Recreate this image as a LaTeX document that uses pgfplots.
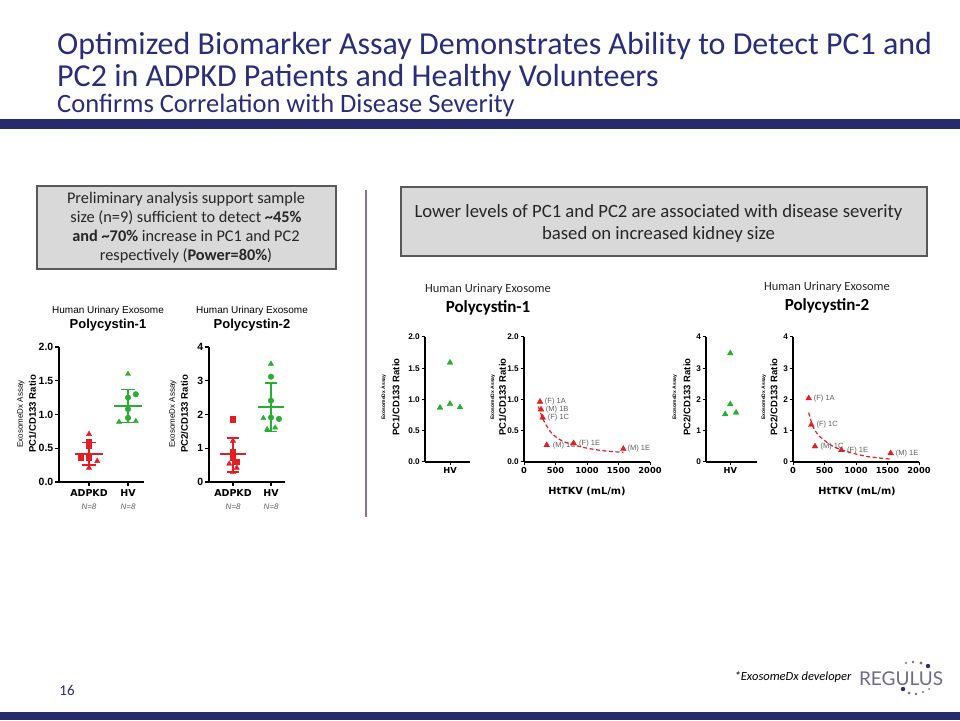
\documentclass[border=0pt]{standalone}
\usepackage{pgfplots}
\pgfplotsset{compat=1.18}
\usepackage{fontspec}
\setmainfont{Carlito}
\newfontfamily\arial{Liberation Sans}
\newfontfamily\dvs{DejaVu Sans}
\newfontfamily\lato{Lato}
\definecolor{navy}{RGB}{42,46,122}
\definecolor{navybar}{RGB}{38,42,110}
\definecolor{boxgray}{RGB}{217,217,217}
\definecolor{boxborder}{RGB}{89,89,89}
\definecolor{divider}{RGB}{140,112,135}
\definecolor{gpred}{RGB}{228,30,36}
\definecolor{gpgreen}{RGB}{40,175,50}
\definecolor{lblgray}{RGB}{95,95,95}
\definecolor{logogray}{RGB}{110,106,140}
\definecolor{mauve}{RGB}{140,100,130}
\pgfplotsset{
  gp/.style={scale only axis, anchor=south west, axis lines=left,
    axis line style={-, line width=1.3pt, black},
    tick align=outside, major tick length=4pt,
    tick style={line width=1.1pt, black},
    /pgf/number format/assume math mode=true,
    /pgf/number format/1000 sep={},
    scaled ticks=false, clip=false},
  gpl/.style={gp, xticklabel style={font=\dvs\bfseries\fontsize{9.5}{11}\selectfont},
    yticklabel style={font=\arial\bfseries\fontsize{10.5}{12}\selectfont, inner xsep=1.5pt}},
  gpr/.style={gp, axis line style={-, line width=1.1pt, black},
    major tick length=3.5pt, tick style={line width=1pt, black},
    xticklabel style={font=\dvs\bfseries\fontsize{8.3}{10}\selectfont, inner ysep=2pt},
    yticklabel style={font=\arial\bfseries\fontsize{8.2}{10}\selectfont, inner xsep=1.5pt}},
  onedec/.style={yticklabel style={/pgf/number format/.cd, fixed, fixed zerofill, precision=1}},
}
\begin{document}
\begin{tikzpicture}[x=1pt,y=1pt]
\useasboundingbox (0,0) rectangle (960,720);
\fill[white] (0,0) rectangle (960,720);
% bars
\fill[navybar] (0,591) rectangle (960,601);
\fill[navybar] (0,0) rectangle (960,8);
% title
\node[anchor=base west, inner sep=0, text=navy, font=\fontsize{32}{35}\selectfont] at (57,665) {Optimized Biomarker Assay Demonstrates Ability to Detect PC1 and};
\node[anchor=base west, inner sep=0, text=navy, font=\fontsize{32}{35}\selectfont] at (57,633) {PC2 in ADPKD Patients and Healthy Volunteers};
\node[anchor=base west, inner sep=0, text=navy, font=\fontsize{26.5}{29}\selectfont] at (57,607) {Confirms Correlation with Disease Severity};
% boxes
\draw[fill=boxgray, draw=boxborder, line width=1.2pt] (37,451) rectangle (336,534);
\node[align=center, text=black!85, font=\fontsize{16.3}{19}\selectfont] at (186,492) {Preliminary analysis support sample\\size (n=9) sufficient to detect \textbf{\textasciitilde45\%}\\\textbf{and \textasciitilde70\%} increase in PC1 and PC2\\respectively (\textbf{Power=80\%})};
\draw[fill=boxgray, draw=boxborder, line width=1.2pt] (401,464) rectangle (927,533);
\node[align=center, text=black!85, font=\fontsize{18.7}{22}\selectfont] at (658.5,496) {Lower levels of PC1 and PC2 are associated with disease severity\\based on increased kidney size};
\draw[divider, line width=1.5pt] (366,530) -- (366,203);
% footer
\node[text=navy, font=\fontsize{15}{18}\selectfont] at (67,30) {16};
\node[font=\itshape\fontsize{12.5}{15}\selectfont] at (793,43) {*ExosomeDx developer};
\node[text=logogray, font=\lato\fontsize{19}{22}\selectfont] at (901,41) {REGULUS};
\foreach \p/\r/\c in {{906,57}/1.2/mauve, {913,58}/1.4/mauve, {921,57}/1.7/mauve, {928,54}/2.2/navy, {903,31}/2.2/navy, {909,27}/1.5/mauve, {916,26}/1.4/mauve, {923,28}/1.2/mauve, {929,31}/1.0/mauve}
  {\fill[\c] (\p) circle (\r);}

% ---------------- Left plot 1: PC1 ----------------
\node[font=\arial\fontsize{10}{12}\selectfont] at (108,409) {Human Urinary Exosome};
\node[font=\arial\bfseries\fontsize{13}{15}\selectfont] at (108,395) {Polycystin-1};
\node[rotate=90, font=\arial\fontsize{8}{10}\selectfont] at (21,306) {ExosomeDx Assay};
\node[rotate=90, font=\arial\bfseries\fontsize{9.6}{11}\selectfont] at (32.5,306) {PC1/CD133 Ratio};
\begin{axis}[gpl, onedec, at={(59pt,238pt)}, width=84.6pt, height=135pt,
  xmin=0.23, xmax=2.4, ymin=0, ymax=2, ytick={0,0.5,1,1.5,2},
  xtick={1,2}, xticklabels={ADPKD,HV}]
\addplot[only marks, mark=triangle*, mark size=3pt, gpred] coordinates {(1,0.71) (1.21,0.31) (1,0.21)};
\addplot[only marks, mark=square*, mark size=2.6pt, gpred] coordinates {(1,0.60) (1,0.54) (0.79,0.36) (1,0.36)};
\addplot[gpred, line width=1.8pt] coordinates {(0.65,0.42) (1.35,0.42)};
\addplot[gpred, line width=1.3pt] coordinates {(1,0.25) (1,0.59)};
\addplot[gpred, line width=1.3pt] coordinates {(0.83,0.59) (1.17,0.59)};
\addplot[gpred, line width=1.3pt] coordinates {(0.83,0.25) (1.17,0.25)};
\addplot[only marks, mark=triangle*, mark size=3pt, gpgreen] coordinates {(2,1.60) (1.77,0.89) (2.2,0.90)};
\addplot[only marks, mark=*, mark size=2.8pt, gpgreen] coordinates {(2.2,1.30) (2,1.25) (2,1.08) (2,0.95)};
\addplot[gpgreen, line width=1.8pt] coordinates {(1.65,1.13) (2.35,1.13)};
\addplot[gpgreen, line width=1.3pt] coordinates {(2,0.88) (2,1.37)};
\addplot[gpgreen, line width=1.3pt] coordinates {(1.83,1.37) (2.17,1.37)};
\addplot[gpgreen, line width=1.3pt] coordinates {(1.83,0.88) (2.17,0.88)};
\end{axis}
\node[text=lblgray, font=\arial\itshape\fontsize{8}{10}\selectfont] at (89,213) {N=8};
\node[text=lblgray, font=\arial\itshape\fontsize{8}{10}\selectfont] at (128,213) {N=8};

% ---------------- Left plot 2: PC2 ----------------
\node[font=\arial\fontsize{10}{12}\selectfont] at (252,409) {Human Urinary Exosome};
\node[font=\arial\bfseries\fontsize{13}{15}\selectfont] at (252,395) {Polycystin-2};
\node[rotate=90, font=\arial\fontsize{8}{10}\selectfont] at (173,306) {ExosomeDx Assay};
\node[rotate=90, font=\arial\bfseries\fontsize{9.6}{11}\selectfont] at (184.5,306) {PC2/CD133 Ratio};
\begin{axis}[gpl, at={(209pt,238pt)}, width=76pt, height=135pt,
  xmin=0.368, xmax=2.37, ymin=0, ymax=4, ytick={0,1,2,3,4},
  xtick={1,2}, xticklabels={ADPKD,HV}]
\addplot[only marks, mark=triangle*, mark size=3pt, gpred] coordinates {(1,1.22) (0.9,0.54) (1.1,0.42) (1,0.29)};
\addplot[only marks, mark=square*, mark size=2.6pt, gpred] coordinates {(1,1.86) (1,0.89) (1,0.71) (1.1,0.59)};
\addplot[gpred, line width=1.8pt] coordinates {(0.65,0.82) (1.35,0.82)};
\addplot[gpred, line width=1.3pt] coordinates {(1,0.30) (1,1.30)};
\addplot[gpred, line width=1.3pt] coordinates {(0.83,1.30) (1.17,1.30)};
\addplot[gpred, line width=1.3pt] coordinates {(0.83,0.30) (1.17,0.30)};
\addplot[only marks, mark=triangle*, mark size=3pt, gpgreen] coordinates {(2,3.50) (1.8,1.89) (2.11,1.61) (1.9,1.56)};
\addplot[only marks, mark=*, mark size=2.8pt, gpgreen] coordinates {(2,3.12) (2,2.41) (2,1.91) (2.21,1.87)};
\addplot[gpgreen, line width=1.8pt] coordinates {(1.65,2.22) (2.35,2.22)};
\addplot[gpgreen, line width=1.3pt] coordinates {(2,1.50) (2,2.93)};
\addplot[gpgreen, line width=1.3pt] coordinates {(1.83,2.93) (2.17,2.93)};
\addplot[gpgreen, line width=1.3pt] coordinates {(1.83,1.50) (2.17,1.50)};
\end{axis}
\node[text=lblgray, font=\arial\itshape\fontsize{8}{10}\selectfont] at (233,213) {N=8};
\node[text=lblgray, font=\arial\itshape\fontsize{8}{10}\selectfont] at (271,213) {N=8};

% ---------------- Right PC1 ----------------
\node[font=\fontsize{12.5}{14}\selectfont, text=black!85] at (488,431) {Human Urinary Exosome};
\node[font=\bfseries\fontsize{17}{19}\selectfont] at (488,412) {Polycystin-1};
\node[rotate=90, font=\arial\bfseries\fontsize{5}{6}\selectfont] at (384,323) {ExosomeDx Assay};
\node[rotate=90, font=\arial\bfseries\fontsize{9.5}{11}\selectfont] at (396,323) {PC1/CD133 Ratio};
\begin{axis}[gpr, onedec, at={(425pt,258pt)}, width=45pt, height=125pt,
  xmin=0, xmax=1.8, ymin=0, ymax=2, ytick={0,0.5,1,1.5,2},
  xtick={1}, xticklabels={HV}]
\addplot[only marks, mark=triangle*, mark size=3.3pt, gpgreen] coordinates {(1,1.59) (1,0.93) (0.6,0.87) (1.4,0.875)};
\end{axis}
\node[rotate=90, font=\arial\bfseries\fontsize{5}{6}\selectfont] at (493,323) {ExosomeDx Assay};
\node[rotate=90, font=\arial\bfseries\fontsize{9.5}{11}\selectfont] at (502.5,323) {PC1/CD133 Ratio};
\begin{axis}[gpr, onedec, at={(524pt,258pt)}, width=126pt, height=125pt,
  xmin=0, xmax=2000, ymin=0, ymax=2, ytick={0,0.5,1,1.5,2},
  xtick={0,500,1000,1500,2000}]
\addplot[gpred, line width=1.2pt, dash pattern=on 4pt off 2.5pt, smooth] coordinates {(228,0.886) (307,0.674) (439,0.462) (624,0.329) (942,0.233) (1259,0.180) (1577,0.154)};
\addplot[only marks, mark=triangle*, mark size=3.3pt, gpred] coordinates {(254,0.965) (270,0.84) (296,0.71) (360,0.27) (788,0.30) (1577,0.21)};
\begin{scope}[every node/.style={anchor=west, inner sep=0, text=lblgray, font=\arial\fontsize{7.5}{9}\selectfont}]
\node at (axis cs:330,0.965) {(F) 1A};
\node at (axis cs:345,0.84) {(M) 1B};
\node at (axis cs:376,0.71) {(F) 1C};
\node at (axis cs:455,0.27) {(M) 1C};
\node at (axis cs:873,0.30) {(F) 1E};
\node at (axis cs:1640,0.21) {(M) 1E};
\end{scope}
\end{axis}
\node[font=\dvs\bfseries\fontsize{9.8}{12}\selectfont] at (587,229) {HtTKV (mL/m)};

% ---------------- Right PC2 ----------------
\node[font=\fontsize{12.5}{14}\selectfont, text=black!85] at (827,433) {Human Urinary Exosome};
\node[font=\bfseries\fontsize{17}{19}\selectfont] at (827,414) {Polycystin-2};
\node[rotate=90, font=\arial\bfseries\fontsize{5}{6}\selectfont] at (675,323) {ExosomeDx Assay};
\node[rotate=90, font=\arial\bfseries\fontsize{9.5}{11}\selectfont] at (687,323) {PC2/CD133 Ratio};
\begin{axis}[gpr, at={(706pt,258pt)}, width=51pt, height=125pt,
  xmin=0, xmax=2.1, ymin=0, ymax=4, ytick={0,1,2,3,4},
  xtick={1}, xticklabels={HV}]
\addplot[only marks, mark=triangle*, mark size=3.3pt, gpgreen] coordinates {(1,3.48) (1,1.85) (0.79,1.53) (1.24,1.58)};
\end{axis}
\node[rotate=90, font=\arial\bfseries\fontsize{5}{6}\selectfont] at (764,323) {ExosomeDx Assay};
\node[rotate=90, font=\arial\bfseries\fontsize{9.5}{11}\selectfont] at (774,323) {PC2/CD133 Ratio};
\begin{axis}[gpr, at={(793pt,258pt)}, width=126pt, height=125pt,
  xmin=0, xmax=2000, ymin=0, ymax=4, ytick={0,1,2,3,4},
  xtick={0,500,1000,1500,2000}]
\addplot[gpred, line width=1.2pt, dash pattern=on 4pt off 2.5pt, smooth] coordinates {(249,1.58) (317,1.135) (423,0.817) (635,0.50) (847,0.34) (1164,0.18) (1534,0.095)};
\addplot[only marks, mark=triangle*, mark size=3.3pt, gpred] coordinates {(249,2.04) (291,1.19) (349,0.50) (767,0.38) (1550,0.28)};
\begin{scope}[every node/.style={anchor=west, inner sep=0, text=lblgray, font=\arial\fontsize{7.5}{9}\selectfont}]
\node at (axis cs:328,2.04) {(F) 1A};
\node at (axis cs:370,1.19) {(F) 1C};
\node at (axis cs:434,0.50) {(M) 1C};
\node at (axis cs:857,0.38) {(F) 1E};
\node at (axis cs:1630,0.28) {(M) 1E};
\end{scope}
\end{axis}
\node[font=\dvs\bfseries\fontsize{9.8}{12}\selectfont] at (857,229) {HtTKV (mL/m)};
\end{tikzpicture}
\end{document}
